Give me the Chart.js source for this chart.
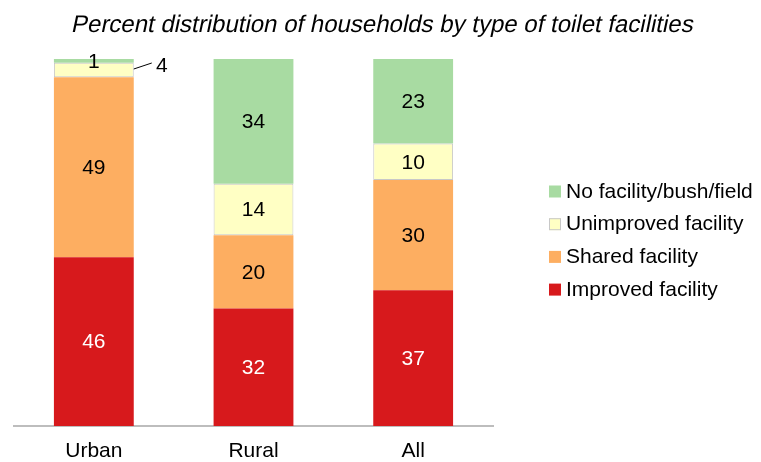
<!DOCTYPE html>
<html>
<head>
<meta charset="utf-8">
<script src="https://cdn.jsdelivr.net/npm/chart.js@4"></script>
<style>
  body { margin: 0; background: #fff; }
  #wrap { width: 761px; height: 462px; }
</style>
</head>
<body>
<div id="wrap"><canvas id="myChart" width="761" height="462"></canvas></div>
<script>
// data
const categories = ['Urban', 'Rural', 'All']
const improved = [46, 32, 37]
const shared = [49, 20, 30]
const unimproved = [4, 14, 10]
const noFacility = [1, 34, 23]
const seriesNames = ['Improved facility', 'Shared facility', 'Unimproved facility', 'No facility/bush/field']
const chartTitle = 'Percent distribution of households by type of toilet facilities'

const colors = ['#d7191c', '#fdae61', '#ffffc4', '#a8dba2']
const labelColors = ['#ffffff', '#000000', '#000000', '#000000']
const FONT = '"Liberation Sans", Arial, sans-serif'

// value labels inside segments, "4" for urban goes outside with a small line
const segLabels = {
  id: 'segLabels',
  afterDatasetsDraw(chart) {
    const ctx = chart.ctx
    ctx.save()
    ctx.font = '21px ' + FONT
    ctx.textAlign = 'center'
    ctx.textBaseline = 'middle'
    chart.data.datasets.forEach((ds, i) => {
      const meta = chart.getDatasetMeta(i)
      meta.data.forEach((bar, j) => {
        const v = ds.data[j]
        const yMid = (bar.y + bar.base) / 2
        ctx.fillStyle = labelColors[i]
        if (i == 2 && j == 0) {
          // outside label
          const xr = bar.x + bar.width / 2
          ctx.strokeStyle = '#000'
          ctx.lineWidth = 1
          ctx.beginPath()
          ctx.moveTo(xr, yMid - 1)
          ctx.lineTo(xr + 18, yMid - 7)
          ctx.stroke()
          ctx.fillStyle = '#000'
          ctx.fillText(v, xr + 28, yMid - 4)
        } else {
          ctx.fillText(v, bar.x, yMid + 1)
        }
      })
    })
    ctx.restore()
  }
}

// legend on the right (reversed order) + slanted title
const sideLegend = {
  id: 'sideLegend',
  afterDraw(chart) {
    const ctx = chart.ctx
    ctx.save()
    ctx.font = '21px ' + FONT
    ctx.textBaseline = 'middle'
    ctx.textAlign = 'left'
    const rows = [3, 2, 1, 0]
    rows.forEach((k, r) => {
      const y = 191 + r * 32.7
      ctx.fillStyle = colors[k]
      ctx.fillRect(549, y - 5.5, 12, 12)
      if (k == 2) {
        ctx.strokeStyle = '#c8c8c8'
        ctx.lineWidth = 1
        ctx.strokeRect(549.5, y - 5, 11, 11)
      }
      ctx.fillStyle = '#000'
      ctx.fillText(seriesNames[k], 566, y + 1)
    })
    // title: regular face skewed, the italic face here comes out narrow
    ctx.font = '24px ' + FONT
    ctx.textAlign = 'center'
    ctx.textBaseline = 'alphabetic'
    ctx.setTransform(1, 0, -0.21, 1, 375 + 0.21 * 31.5, 31.5)
    ctx.fillText(chartTitle, 0, 0)
    ctx.restore()
  }
}

const allSeries = [improved, shared, unimproved, noFacility]

new Chart(document.getElementById('myChart'), {
  type: 'bar',
  data: {
    labels: categories,
    datasets: allSeries.map((d, i) => ({
      label: seriesNames[i],
      data: d,
      backgroundColor: colors[i],
      borderColor: i == 2 ? '#c8c8c8' : colors[i],
      borderWidth: i == 2 ? 1 : 0,
      borderSkipped: false,
      barPercentage: 0.5,
      categoryPercentage: 1
    }))
  },
  options: {
    responsive: false,
    animation: false,
    layout: { padding: { left: 14, right: 268, top: 59, bottom: 0 } },
    plugins: {
      legend: { display: false },
      tooltip: { enabled: false },
      title: { display: false }
    },
    scales: {
      x: {
        stacked: true,
        grid: { display: false, drawTicks: false },
        border: { display: true, color: '#bdbdbd', width: 2 },
        ticks: { color: '#000', padding: 15, font: { family: FONT, size: 21, lineHeight: 1 } },
        afterFit(scale) { scale.height = 36 }
      },
      y: {
        stacked: true,
        display: false,
        min: 0,
        max: 100
      }
    }
  },
  plugins: [segLabels, sideLegend]
})
</script>
</body>
</html>
